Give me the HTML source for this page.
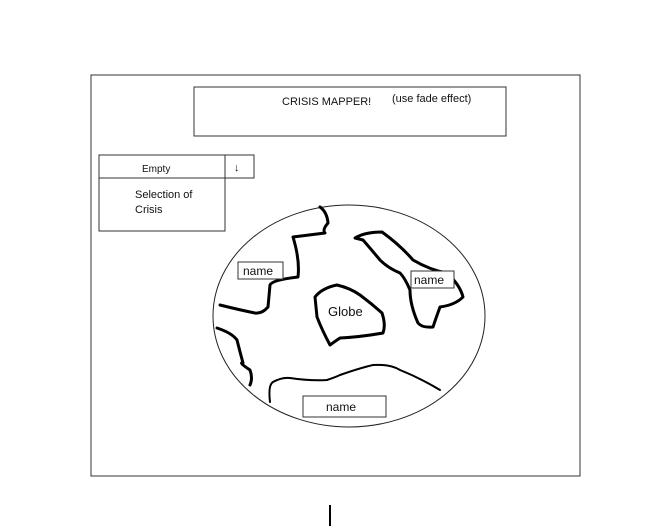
<!DOCTYPE html>
<html><head><meta charset="utf-8"><style>html,body{margin:0;padding:0;background:#fff}svg{display:block}</style></head><body>
<svg width="672" height="528" viewBox="0 0 672 528" xmlns="http://www.w3.org/2000/svg" font-family="'Comic Sans MS','Liberation Sans',sans-serif">
<rect x="91" y="75" width="489" height="401" fill="none" stroke="#333" stroke-width="1"/>
<rect x="194" y="87" width="312" height="49" fill="none" stroke="#333" stroke-width="1"/>
<text x="282" y="105" font-size="11" fill="#111">CRISIS MAPPER!</text>
<text x="392" y="102" font-size="11" fill="#111">(use fade effect)</text>
<rect x="99" y="155" width="155" height="23" fill="none" stroke="#333"/>
<line x1="225" y1="155" x2="225" y2="178" stroke="#333"/>
<text x="142" y="172" font-size="10" fill="#111">Empty</text>
<text x="234" y="171" font-size="11" fill="#111">↓</text>
<rect x="99" y="178" width="126" height="53" fill="none" stroke="#333"/>
<text x="135" y="198" font-size="11" fill="#111">Selection of</text>
<text x="135" y="213" font-size="11" fill="#111">Crisis</text>
<ellipse cx="349" cy="316" rx="136" ry="111" fill="none" stroke="#222" stroke-width="1"/>
<g fill="none" stroke="#000" stroke-width="3" stroke-linejoin="round" stroke-linecap="round">
<path d="M320,207 Q327,212 328,223 Q322,230 325,233 L293,237 Q300,260 298,277 Q272,280 270,285 L268,307 Q262,314 255,313 Q240,310 220,305"/>
<path d="M355,238 Q365,232 382,232 Q400,245 413,260 Q430,270 447,273 Q460,285 463,297 Q455,305 440,307 Q436,318 433,327 Q422,328 418,323 Q410,305 410,290 Q405,278 400,273 Q388,268 380,260 Q370,248 363,240 Z"/>
<path d="M315,297 Q322,288 337,285 Q350,288 360,295 Q372,304 382,313 Q386,325 383,333 Q360,337 340,338 Q334,342 330,345 Q322,330 317,317 Z"/>
<path d="M270,402 Q268,385 273,382 Q282,377 290,378 Q310,381 327,380 Q336,377 340,375 Q360,368 373,365 Q390,364 400,370 Q420,378 440,390" stroke-width="2"/>
<path d="M217,328 Q232,333 237,340 Q240,352 243,363 Q238,362 250,370 Q253,378 250,385"/>
</g>
<g fill="#fff" stroke="#333" stroke-width="1">
<rect x="238" y="262" width="45" height="17"/>
<rect x="411" y="271" width="43" height="17"/>
<rect x="303" y="396" width="83" height="21"/>
</g>
<g font-size="12" fill="#111">
<text x="243" y="275">name</text>
<text x="414" y="284">name</text>
<text x="326" y="411">name</text>
<text x="328" y="316" font-size="13">Globe</text>
</g>
<line x1="330" y1="505" x2="330" y2="526" stroke="#000" stroke-width="2"/>
</svg>
</body></html>
